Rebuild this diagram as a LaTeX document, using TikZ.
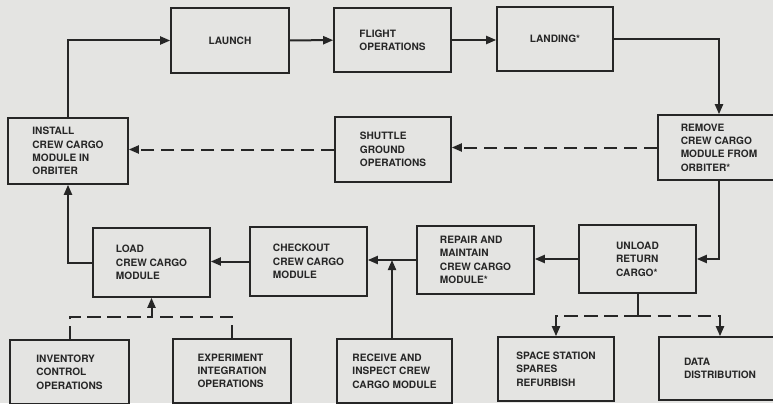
\documentclass[tikz,border=0pt]{standalone}
\usepackage{fontspec}
\setmainfont{TeX Gyre Heros}
\usetikzlibrary{arrows.meta}
\definecolor{bg}{HTML}{E4E4E2}
\definecolor{ink}{HTML}{262626}
\tikzset{
  bx/.style n args={2}{draw=ink, line width=1.2pt, rectangle, inner sep=0pt,
    minimum width=#1*0.75pt, minimum height=#2*0.75pt, align=left,
    text=ink, font=\fontsize{7.6}{10}\selectfont\bfseries},
  tip/.style={-{Triangle[length=7.5pt,width=6pt]}},
  flow/.style={draw=ink, line width=1.5pt, tip},
  plain/.style={draw=ink, line width=1.5pt},
  dflow/.style={draw=ink, line width=1.5pt, dash pattern=on 10pt off 5pt},
}
\begin{document}
\begin{tikzpicture}[x=0.75pt,y=-0.75pt]
\fill[bg] (0,0) rectangle (773,403);
\useasboundingbox (0,0) rectangle (773,403);
% top row
\node[bx={120}{66}] (install) at (68,151) {INSTALL\\CREW CARGO\\MODULE IN\\ORBITER};
\node[bx={118}{65}] (launch) at (230,40.5) {LAUNCH};
\node[bx={117}{64}] (flight) at (392.5,40) {FLIGHT\\OPERATIONS};
\node[bx={116}{64}] (landing) at (555,39) {LANDING*};
\node[bx={116}{65}] (shuttle) at (393,149.5) {SHUTTLE\\GROUND\\OPERATIONS};
\node[bx={122}{65}] (remove) at (719,147.5) {REMOVE\\CREW CARGO\\MODULE FROM\\ORBITER*};
% middle row
\node[bx={117}{69}] (load) at (151.5,262.5) {LOAD\\CREW CARGO\\MODULE};
\node[bx={117}{69}] (checkout) at (308.5,261.5) {CHECKOUT\\CREW CARGO\\MODULE};
\node[bx={117}{68}] (repair) at (475.5,260) {REPAIR AND\\MAINTAIN\\CREW CARGO\\MODULE*};
\node[bx={117}{68}] (unload) at (637.5,259) {UNLOAD\\RETURN\\CARGO*};
% bottom row
\node[bx={119}{64}] (inventory) at (69.5,372) {INVENTORY\\CONTROL\\OPERATIONS};
\node[bx={118}{64}] (experiment) at (232,371) {EXPERIMENT\\INTEGRATION\\OPERATIONS};
\node[bx={115}{64}] (receive) at (394.5,371) {RECEIVE AND\\INSPECT CREW\\CARGO MODULE};
\node[bx={116}{64}] (space) at (556,369) {SPACE STATION\\SPARES\\REFURBISH};
\node[bx={122}{63}] (data) at (720,368.5) {DATA\\DISTRIBUTION};
% junctions
\coordinate (j1) at (151.5,317);
\coordinate (j2) at (637.5,316);
\coordinate (rj) at (392,339);
% connectors
\draw[flow] (install.north) |- (launch.west);
\draw[flow] (launch) -- (flight);
\draw[flow] (flight.east) -- (landing.west |- flight.east);
\draw[flow] (landing.east) -| (remove.north);
\draw[dflow, tip] (remove.west) -- (shuttle.east |- remove.west);
\draw[dflow, tip] (shuttle.west) -- (install.east |- shuttle.west);
\draw[flow] (remove.south) |- (unload.east);
\draw[flow] (unload.west) -- (repair.east |- unload.west);
\draw[flow] (repair.west) -- (checkout.east |- repair.west);
\draw[flow] (checkout.west) -- (load.east |- checkout.west);
\draw[flow] (load.west) -| (install.south);
\draw[flow] (rj) -- (rj |- repair.west);
\draw[dflow] (inventory.north) |- (j1);
\draw[dflow] (experiment.north) |- (j1);
\draw[flow] (j1) -- (load.south);
\draw[plain] (unload.south) -- (j2);
\draw[dflow, tip] (j2) -| (space.north);
\draw[dflow, tip] (j2) -| (data.north);
\end{tikzpicture}
\end{document}
